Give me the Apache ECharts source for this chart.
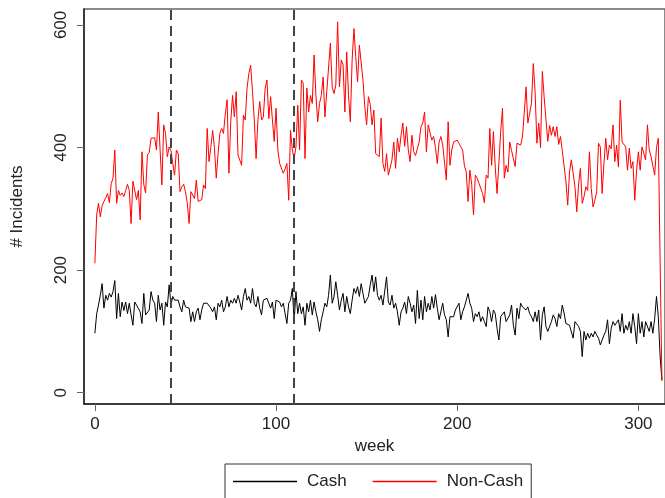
<!DOCTYPE html>
<html>
<head>
<meta charset="utf-8">
<script src="https://cdn.jsdelivr.net/npm/echarts@6/dist/echarts.min.js"></script>
<style>
html, body { margin: 0; padding: 0; background: #fff; }
#chart { width: 665px; height: 498px; }
</style>
</head>
<body>
<div id="chart"></div>
<script>
// weekly counts, week 0 .. 313
var cash = [
	97,129,143,159,178,138,159,151,162,156, 165,183,121,162,124,148,134,148,129,146,
	127,110,148,143,140,132,113,162,127,127, 135,165,151,146,116,159,135,146,110,148,
	140,176,143,157,151,154,151,140,132,151, 140,140,138,116,132,116,132,138,119,135,
	146,148,146,148,138,132,140,119,146,140, 151,132,140,157,140,151,146,154,146,159,
	148,135,157,170,151,157,146,170,146,140, 157,138,127,151,148,154,151,138,148,121,
	151,148,148,140,146,129,113,146,151,170, 116,165,129,146,129,140,110,146,132,151,
	127,148,132,119,100,119,132,146,140,159, 192,146,157,181,159,135,151,162,132,157,
	140,129,151,170,162,173,157,178,162,146, 146,157,176,192,165,189,159,151,159,143,
	146,189,148,143,159,138,146,132,110,132, 138,148,129,157,146,132,143,113,167,121,
	151,119,157,132,146,135,157,138,160,138, 119,116,146,127,119,91,124,127,124,135,
	138,146,119,132,140,151,162,146,138,116, 129,124,132,116,124,116,108,140,132,116,
	135,129,105,86,124,127,132,116,113,127, 143,110,94,138,121,146,140,138,135,140,
	129,124,116,132,116,135,86,127,140,108, 100,97,116,127,121,108,129,121,143,130,
	113,110,110,108,89,116,113,108,100,59, 100,86,97,89,97,91,100,94,89,78,
	86,94,100,119,80,105,116,110,108,119, 100,129,97,110,102,116,97,129,108,80,
	129,97,116,91,116,113,100,116,97,121, 157,124,60,20
];
var nonCash = [
	211,290,309,287,305,312,318,325,310,341, 350,396,309,330,322,326,320,330,340,330,
	276,345,345,315,330,282,393,340,326,388, 392,415,418,416,396,458,396,339,437,423,
	385,401,395,374,355,396,390,328,336,340, 328,310,276,328,325,317,347,312,315,315,
	339,333,431,377,400,428,400,350,390,423, 431,423,455,478,358,442,485,450,491,388,
	390,371,453,445,497,521,534,491,445,382, 445,475,445,450,497,510,447,483,445,410,
	464,396,374,377,358,365,374,314,428,396, 382,401,469,396,510,505,382,497,458,485,
	472,551,485,442,472,485,515,450,491,491, 570,499,488,502,605,499,543,535,458,556,
	485,442,543,594,548,507,567,567,510,466, 437,483,470,437,461,390,393,385,448,374,
	361,390,355,358,380,409,366,415,393,420, 440,402,434,396,377,420,393,387,385,409,
	434,440,458,393,437,424,412,418,400,374, 409,418,404,401,347,442,371,396,409,412,
	412,407,401,396,370,360,312,363,340,290, 355,350,342,340,325,310,355,350,431,371,
	426,368,325,374,426,464,350,371,360,409, 395,382,369,407,410,404,417,456,499,440,
	456,472,537,491,407,440,400,524,482,445, 410,436,420,434,418,434,405,418,395,370,
	345,306,360,380,377,336,295,340,366,309, 320,336,330,393,333,303,314,328,407,401,
	325,374,415,380,404,398,437,377,404,368, 477,409,407,401,363,399,366,377,314,363,
	393,363,401,401,380,437,396,385,370,355, 400,415,218,20
];
var xTicks = [0, 100, 200, 300];
var yTicks = [0, 200, 400, 600];
var breakWeeks = [42, 110];

function toPairs(values) {
	var out = [];
	for (var i = 0; i < values.length; i++) {
		out.push([i, values[i]]);
	}
	return out;
}

var font = '"Liberation Sans", Arial, sans-serif';
var textColor = '#222';
var cashColor = '#000000';
var nonCashColor = '#ff0000';

var chart = echarts.init(document.getElementById('chart'));
chart.setOption({
	animation: false,
	backgroundColor: '#fff',
	grid: {
		left: 84,
		top: 9,
		right: -2,
		bottom: 94,
		show: true,
		borderColor: '#666',
		borderWidth: 1.5
	},
	legend: {
		data: [
			{ name: 'Cash', icon: 'rect', itemStyle: { color: cashColor, borderWidth: 0 } },
			{ name: 'Non-Cash', icon: 'rect', itemStyle: { color: nonCashColor, borderWidth: 0 } }
		],
		left: 225,
		top: 464,
		itemWidth: 64,
		itemHeight: 1.4,
		itemGap: 26,
		padding: [9, 8, 14, 8],
		borderColor: '#333',
		borderWidth: 1,
		textStyle: {
			fontSize: 17,
			fontFamily: font,
			color: textColor,
			padding: [0, 0, 0, 5]
		}
	},
	xAxis: {
		type: 'value',
		min: -6,
		max: 314.7,
		name: 'week',
		nameLocation: 'middle',
		nameGap: 29,
		nameTextStyle: { fontSize: 17, fontFamily: font, color: textColor },
		axisLine: { onZero: false, lineStyle: { color: '#222', width: 1.5 } },
		axisTick: { length: 7, customValues: xTicks, lineStyle: { color: '#666' } },
		axisLabel: { customValues: xTicks, margin: 12, fontSize: 17, fontFamily: font, color: textColor },
		splitLine: { show: false }
	},
	yAxis: {
		type: 'value',
		min: -18.4,
		max: 626,
		name: '# Incidents',
		nameLocation: 'middle',
		nameRotate: 90,
		nameGap: 58,
		nameTextStyle: { fontSize: 17, fontFamily: font, color: textColor },
		axisLine: { show: true, onZero: false, lineStyle: { color: '#222', width: 1.5 } },
		axisTick: { show: true, length: 7, customValues: yTicks, lineStyle: { color: '#666' } },
		axisLabel: { customValues: yTicks, rotate: 90, margin: 14, fontSize: 17, fontFamily: font, color: textColor },
		splitLine: { show: false }
	},
	series: [
		{
			name: 'Cash',
			type: 'line',
			data: toPairs(cash),
			symbol: 'none',
			color: cashColor,
			lineStyle: { width: 1, color: cashColor },
			markLine: {
				silent: true,
				symbol: 'none',
				label: { show: false },
				lineStyle: { color: '#444', width: 2, type: [10, 6] },
				data: breakWeeks.map(function (w) { return { xAxis: w }; })
			}
		},
		{
			name: 'Non-Cash',
			type: 'line',
			data: toPairs(nonCash),
			symbol: 'none',
			color: nonCashColor,
			lineStyle: { width: 1, color: nonCashColor }
		}
	]
});
</script>
</body>
</html>
